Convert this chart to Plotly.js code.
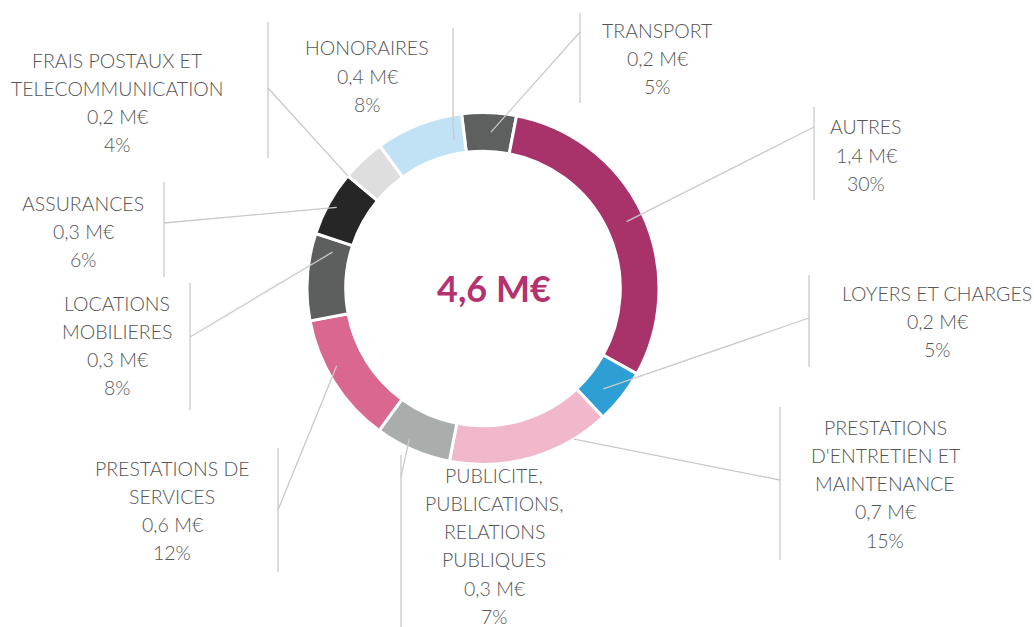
<!DOCTYPE html>
<html>
<head>
<meta charset="utf-8">
<script src="https://cdn.plot.ly/plotly-3.0.1.min.js"></script>
<style>html,body{margin:0;padding:0;background:#fff;}#chart{width:1034px;height:627px;}</style>
</head>
<body>
<div id="chart"></div>
<script>
// ---- data ----
const categories = ['TRANSPORT','AUTRES','LOYERS ET CHARGES',"PRESTATIONS D'ENTRETIEN ET MAINTENANCE",'PUBLICITE, PUBLICATIONS, RELATIONS PUBLIQUES','PRESTATIONS DE SERVICES','LOCATIONS MOBILIERES','ASSURANCES','FRAIS POSTAUX ET TELECOMMUNICATION','HONORAIRES'];
const labelLines = [['TRANSPORT'],['AUTRES'],['LOYERS ET CHARGES'],['PRESTATIONS',"D'ENTRETIEN ET",'MAINTENANCE'],['PUBLICITE,','PUBLICATIONS,','RELATIONS','PUBLIQUES'],['PRESTATIONS DE','SERVICES'],['LOCATIONS','MOBILIERES'],['ASSURANCES'],['FRAIS POSTAUX ET','TELECOMMUNICATION'],['HONORAIRES']];
const amountsMEUR = [0.2, 1.4, 0.2, 0.7, 0.3, 0.6, 0.3, 0.3, 0.2, 0.4];
const percents = [5, 30, 5, 15, 7, 12, 8, 6, 4, 8];
const totalMEUR = 4.6;

// ---- style / layout ----
const colors = ['#5e5f5f','#a8336b','#2e9fd4','#f1b8cc','#a9adac','#d9678f','#5d5e5e','#262626','#dedede','#c0e2f4'];
const W = 1034, H = 627;
const CX = 483, CY = 288.5, R = 176;
const ROT = -7;
// per label: text center x, first line y, vertical line x, y0, y1, join y, leader angle fraction, leader radius fraction
const labelPos = [
  {tx:657, ty:30,  vx:580, vy0:13,  vy1:103, jy:32,  f:0.55, r:0.89},
  {tx:866, ty:127, vx:814, vy0:107, vy1:200, jy:127, f:0.5,  r:0.90},
  {tx:937, ty:293, vx:809, vy0:275, vy1:367, jy:318, f:0.6,  r:0.89},
  {tx:885, ty:427, vx:780, vy0:407, vy1:560, jy:480, f:0.22, r:1.0},
  {tx:494, ty:475, vx:401, vy0:455, vy1:627, jy:477, f:0.6,  r:0.95},
  {tx:172, ty:468, vx:278, vy0:448, vy1:572, jy:510, f:0.6,  r:0.94},
  {tx:117, ty:303, vx:190, vy0:283, vy1:410, jy:337, f:0.84, r:0.88},
  {tx:83,  ty:203, vx:164, vy0:182, vy1:277, jy:223, f:0.5,  r:0.95},
  {tx:117, ty:60,  vx:268, vy0:22,  vy1:158, jy:88,  f:0.0,  r:1.0},
  {tx:367, ty:48,  vx:453, vy0:28,  vy1:122, jy:122, f:0.86, r:0.86}
];
const LINE_H = 28.3;
const lineColor = '#c9c9c9';
const textColor = '#555555';
const FONT = 'Lato, "Open Sans", sans-serif';

const px2x = p => p / W;
const py2y = p => 1 - p / H;
const fmt = v => v.toFixed(1).replace('.', ',');

const sum = percents.reduce((a,b)=>a+b,0);
const shapes = [];
const annotations = [];
let acc = ROT;
percents.forEach((p, i) => {
  const span = p / sum * 360;
  const L = labelPos[i];
  const ang = (acc + span * L.f) * Math.PI / 180;
  acc += span;
  const sx = CX + R * L.r * Math.sin(ang);
  const sy = CY - R * L.r * Math.cos(ang);
  shapes.push({type:'line', xref:'paper', yref:'paper', x0:px2x(L.vx), x1:px2x(L.vx), y0:py2y(L.vy0), y1:py2y(L.vy1), line:{color:lineColor, width:1.3}});
  shapes.push({type:'line', xref:'paper', yref:'paper', x0:px2x(L.vx), x1:px2x(sx), y0:py2y(L.jy), y1:py2y(sy), line:{color:lineColor, width:1.3}});
  const lines = labelLines[i].concat([fmt(amountsMEUR[i]) + ' M€', percents[i] + '%']);
  lines.forEach((t, k) => {
    annotations.push({xref:'paper', yref:'paper', x:px2x(L.tx), y:py2y(L.ty + k*LINE_H), text:t, showarrow:false, xanchor:'center', yanchor:'middle', font:{family:FONT, size:19.5, weight:300, color:textColor}});
  });
});
annotations.push({xref:'paper', yref:'paper', x:px2x(494), y:py2y(288), text:fmt(totalMEUR) + ' M€', showarrow:false, xanchor:'center', yanchor:'middle', font:{family:FONT, size:36, weight:700, color:'#b3326f'}});

const trace = {
  type:'pie',
  labels: categories,
  values: percents,
  sort:false,
  direction:'clockwise',
  rotation: ROT,
  hole: 0.78,
  textinfo:'none',
  hoverinfo:'none',
  marker:{colors: colors, line:{color:'#ffffff', width:3}},
  domain:{x:[px2x(CX-R), px2x(CX+R)], y:[py2y(CY+R), py2y(CY-R)]},
  showlegend:false
};

Plotly.newPlot('chart', [trace], {
  width:W, height:H,
  margin:{l:0,r:0,t:0,b:0},
  paper_bgcolor:'#ffffff',
  plot_bgcolor:'#ffffff',
  showlegend:false,
  shapes: shapes,
  annotations: annotations
}, {staticPlot:true, displayModeBar:false});
</script>
</body>
</html>
